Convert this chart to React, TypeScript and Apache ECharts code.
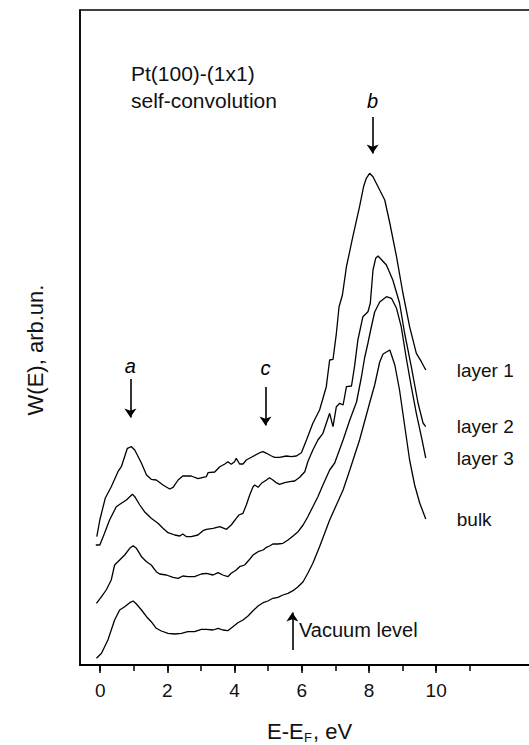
import React, { useEffect, useRef } from "react";
import * as echarts from "echarts";

const FONT = '"Liberation Sans", Arial, Helvetica, sans-serif';

// energies in eV (E - E_F), intensities in arbitrary units
const layer1: [number, number][] = [
  [-0.10, 12.83], [-0.01, 14.5], [0.15, 16.67], [0.33, 17.83], [0.53, 19.33], [0.63, 19.83],
  [0.81, 21.67], [0.93, 21.83], [1.03, 21.5], [1.23, 20.17], [1.38, 19.0], [1.52, 18.57],
  [1.67, 18.5], [1.87, 18.0], [2.07, 17.6], [2.17, 17.77], [2.32, 18.5], [2.46, 18.9],
  [2.71, 18.9], [2.91, 18.63], [3.16, 18.83], [3.21, 19.23], [3.41, 19.3], [3.56, 19.83],
  [3.71, 20.1], [3.80, 20.33], [3.90, 20.07], [4.00, 20.33], [4.05, 20.67], [4.15, 20.1],
  [4.25, 20.1], [4.35, 20.5], [4.50, 20.77], [4.75, 21.23], [4.85, 21.33], [4.95, 21.17],
  [5.10, 20.9], [5.19, 20.77], [5.34, 20.77], [5.54, 20.9], [5.69, 20.83], [5.84, 20.9],
  [5.99, 21.23], [6.14, 22.5], [6.33, 24.17], [6.53, 25.5], [6.73, 27.83], [6.83, 30.5],
  [6.93, 30.57], [7.03, 33.17], [7.11, 35.83], [7.21, 37.0], [7.33, 39.83], [7.52, 42.83],
  [7.72, 45.83], [7.84, 47.83], [7.92, 48.67], [8.02, 49.17], [8.12, 48.83], [8.32, 47.5],
  [8.47, 46.5], [8.62, 44.2], [8.82, 40.83], [9.01, 37.2], [9.21, 33.83], [9.41, 31.17],
  [9.56, 30.33], [9.69, 29.5],
];

const layer2: [number, number][] = [
  [-0.13, 12.0], [-0.01, 12.0], [0.13, 13.17], [0.28, 14.5], [0.48, 15.83], [0.63, 16.17],
  [0.78, 16.5], [0.96, 17.07], [1.03, 16.83], [1.18, 16.0], [1.32, 15.33], [1.52, 14.67],
  [1.72, 14.17], [1.87, 13.67], [2.02, 13.23], [2.22, 13.0], [2.37, 12.9], [2.46, 13.1],
  [2.57, 12.83], [2.71, 12.83], [2.91, 13.0], [3.06, 13.43], [3.16, 13.57], [3.36, 13.67],
  [3.56, 13.83], [3.76, 13.57], [3.90, 14.0], [4.05, 14.67], [4.13, 15.0], [4.25, 15.17],
  [4.35, 16.0], [4.45, 17.0], [4.55, 17.83], [4.60, 18.0], [4.70, 17.77], [4.80, 18.17],
  [4.95, 18.5], [5.04, 18.73], [5.14, 18.5], [5.24, 18.23], [5.34, 18.07], [5.49, 18.23],
  [5.64, 18.33], [5.79, 18.4], [5.94, 18.77], [6.09, 19.33], [6.18, 20.33], [6.33, 21.5],
  [6.48, 22.5], [6.63, 23.17], [6.83, 25.17], [6.93, 23.83], [7.03, 25.83], [7.13, 26.17],
  [7.23, 26.0], [7.33, 27.83], [7.48, 27.9], [7.57, 29.83], [7.67, 32.5], [7.82, 34.83],
  [7.97, 35.33], [8.04, 36.17], [8.12, 39.5], [8.20, 40.67], [8.27, 40.9], [8.52, 40.0],
  [8.71, 38.5], [8.91, 36.2], [9.06, 33.2], [9.26, 29.83], [9.46, 26.2], [9.61, 24.2],
  [9.69, 23.83],
];

const layer3: [number, number][] = [
  [-0.11, 6.17], [0.04, 6.83], [0.18, 7.5], [0.33, 8.5], [0.43, 10.0], [0.58, 10.5],
  [0.73, 11.0], [0.88, 11.67], [0.98, 11.93], [1.08, 11.67], [1.23, 10.83], [1.38, 10.33],
  [1.52, 10.0], [1.67, 9.33], [1.77, 9.1], [1.97, 9.0], [2.17, 8.77], [2.32, 8.67],
  [2.46, 8.9], [2.61, 8.83], [2.81, 8.83], [3.01, 9.1], [3.16, 9.17], [3.36, 9.0],
  [3.51, 9.23], [3.65, 9.0], [3.80, 8.83], [3.90, 9.17], [4.05, 9.5], [4.15, 9.83],
  [4.30, 10.0], [4.45, 10.57], [4.55, 11.0], [4.70, 11.33], [4.85, 11.5], [4.95, 11.77],
  [5.04, 11.9], [5.14, 12.1], [5.29, 12.1], [5.44, 12.17], [5.59, 12.5], [5.74, 12.9],
  [5.89, 13.33], [6.04, 14.0], [6.18, 14.83], [6.33, 15.83], [6.48, 16.83], [6.63, 18.0],
  [6.83, 19.5], [6.98, 20.2], [7.23, 22.5], [7.43, 24.5], [7.63, 26.3], [7.77, 28.7],
  [7.87, 30.7], [7.97, 32.2], [8.07, 33.8], [8.17, 35.3], [8.32, 36.3], [8.52, 36.83],
  [8.67, 36.67], [8.82, 35.67], [8.96, 33.83], [9.11, 30.7], [9.26, 27.83], [9.41, 25.17],
  [9.56, 22.83], [9.69, 20.7],
];

const bulk: [number, number][] = [
  [-0.11, 0.67], [0.04, 1.17], [0.23, 2.5], [0.33, 3.5], [0.43, 4.5], [0.58, 5.5],
  [0.73, 5.83], [0.88, 6.23], [0.98, 6.4], [1.08, 6.1], [1.23, 5.5], [1.38, 4.83],
  [1.52, 4.33], [1.67, 3.67], [1.82, 3.4], [2.02, 3.17], [2.22, 3.1], [2.42, 3.17],
  [2.61, 3.33], [2.81, 3.33], [3.01, 3.57], [3.16, 3.57], [3.36, 3.5], [3.51, 3.67],
  [3.65, 3.5], [3.80, 3.43], [3.95, 3.83], [4.10, 4.23], [4.25, 4.5], [4.40, 4.9],
  [4.55, 5.43], [4.70, 5.9], [4.85, 6.23], [4.99, 6.4], [5.14, 6.67], [5.29, 6.77],
  [5.44, 7.0], [5.59, 7.17], [5.74, 7.43], [5.89, 7.83], [6.04, 8.33], [6.18, 9.17],
  [6.33, 10.17], [6.53, 11.83], [6.83, 14.5], [7.23, 17.5], [7.43, 19.5], [7.72, 22.5],
  [8.02, 26.2], [8.17, 28.0], [8.32, 30.3], [8.42, 31.1], [8.62, 31.5], [8.77, 30.0],
  [8.91, 27.5], [9.06, 24.0], [9.21, 20.5], [9.36, 18.0], [9.51, 16.2], [9.69, 14.6],
];

const seriesNames = ["layer 1", "layer 2", "layer 3", "bulk"];
const tickLabels = [0, 2, 4, 6, 8, 10];
const minorTicks = [0, 1, 2, 3, 4, 5, 6, 7, 8, 9, 10, 11];

// feature arrows: energy, start and end intensity
const arrowA = { name: "a", e: 0.9, from: 28.6, to: 24.75 };
const arrowB = { name: "b", e: 8.11, from: 54.8, to: 51.15 };
const arrowC = { name: "c", e: 4.92, from: 27.8, to: 23.95 };
const vacuum = { name: "Vacuum level", e: 5.72, from: 1.5, to: 5.25 };

function arrowMark(a: { name: string; e: number; from: number; to: number }, dist: number, showLabel: boolean) {
  return {
    silent: true,
    symbol: ["none", "arrow"],
    symbolSize: 9,
    lineStyle: { type: "solid", color: "#000", width: 1.6 },
    label: {
      show: showLabel,
      position: "start",
      distance: dist,
      formatter: a.name,
      fontStyle: "italic",
      fontSize: 20,
      fontFamily: FONT,
      color: "#000",
    },
    data: [[{ coord: [a.e, a.from] }, { coord: [a.e, a.to] }]],
  };
}

export default function App() {
  const ref = useRef<HTMLDivElement>(null);
  useEffect(() => {
    if (!ref.current) return;
    const chart = echarts.init(ref.current, undefined, { renderer: "svg" });
    const datasets = [layer1, layer2, layer3, bulk];
    const marks = [
      arrowMark(arrowA, 3, true),
      arrowMark(arrowB, 6, true),
      arrowMark(arrowC, 9, true),
      arrowMark(vacuum, 3, false),
    ];
    chart.setOption({
      animation: false,
      grid: {
        left: 80,
        top: 10,
        width: 470.4,
        bottom: 80,
        show: true,
        borderColor: "#000",
        borderWidth: 1.5,
        containLabel: false,
        outerBoundsMode: "none",
      },
      xAxis: [
        {
          type: "value",
          min: -0.6,
          max: 13.4,
          position: "bottom",
          axisLine: { show: true, onZero: false, lineStyle: { color: "#000", width: 2 } },
          axisTick: {
            show: true,
            inside: false,
            length: 6,
            customValues: minorTicks,
            lineStyle: { color: "#000", width: 1.5 },
          },
          axisLabel: {
            show: true,
            customValues: tickLabels,
            fontSize: 19,
            fontFamily: FONT,
            color: "#111",
            margin: 16,
          },
          splitLine: { show: false },
        },
        {
          type: "value",
          min: -0.6,
          max: 13.4,
          position: "bottom",
          axisLine: { show: false, onZero: false },
          axisTick: {
            show: true,
            inside: false,
            length: 8,
            customValues: tickLabels,
            lineStyle: { color: "#000", width: 1.5 },
          },
          axisLabel: { show: false },
          splitLine: { show: false },
        },
      ],
      yAxis: {
        type: "value",
        min: 0,
        max: 65.5,
        axisLine: { show: true, onZero: false, lineStyle: { color: "#000", width: 1.5 } },
        axisTick: { show: false },
        axisLabel: { show: false },
        splitLine: { show: false },
      },
      series: datasets.map((d, i) => ({
        type: "line",
        name: seriesNames[i],
        data: d,
        xAxisIndex: 0,
        showSymbol: false,
        symbol: "none",
        lineStyle: { color: "#000", width: 1.3 },
        itemStyle: { color: "#000" },
        endLabel: {
          show: true,
          formatter: (p: any) => p.seriesName,
          distance: 31,
          fontSize: 19,
          fontFamily: FONT,
          color: "#111",
        },
        markLine: marks[i],
      })),
      graphic: [
        {
          type: "text",
          x: 131,
          y: 73,
          style: {
            text: "Pt(100)-(1x1)",
            fontSize: 21,
            fontFamily: FONT,
            fill: "#111",
            textAlign: "left",
            textVerticalAlign: "middle",
          },
        },
        {
          type: "text",
          x: 131,
          y: 100,
          style: {
            text: "self-convolution",
            fontSize: 21,
            fontFamily: FONT,
            fill: "#111",
            textAlign: "left",
            textVerticalAlign: "middle",
          },
        },
        {
          type: "text",
          x: 35,
          y: 350,
          rotation: Math.PI / 2,
          style: {
            text: "W(E), arb.un.",
            fontSize: 22,
            fontFamily: FONT,
            fill: "#111",
            textAlign: "center",
            textVerticalAlign: "middle",
          },
        },
        {
          type: "text",
          x: 267,
          y: 731,
          style: {
            text: "E-E",
            fontSize: 22,
            fontFamily: FONT,
            fill: "#111",
            textAlign: "left",
            textVerticalAlign: "middle",
          },
        },
        {
          type: "text",
          x: 304,
          y: 737,
          style: {
            text: "F",
            fontSize: 13,
            fontFamily: FONT,
            fill: "#111",
            textAlign: "left",
            textVerticalAlign: "middle",
          },
        },
        {
          type: "text",
          x: 313,
          y: 731,
          style: {
            text: ", eV",
            fontSize: 22,
            fontFamily: FONT,
            fill: "#111",
            textAlign: "left",
            textVerticalAlign: "middle",
          },
        },
        {
          type: "text",
          x: 299,
          y: 630,
          style: {
            text: "Vacuum level",
            fontSize: 20,
            fontFamily: FONT,
            fill: "#111",
            textAlign: "left",
            textVerticalAlign: "middle",
          },
        },
      ],
    });
    return () => chart.dispose();
  }, []);
  return (
    <div
      ref={ref}
      style={{ position: "fixed", left: 0, top: 0, width: 529, height: 745, background: "#fff" }}
    />
  );
}
